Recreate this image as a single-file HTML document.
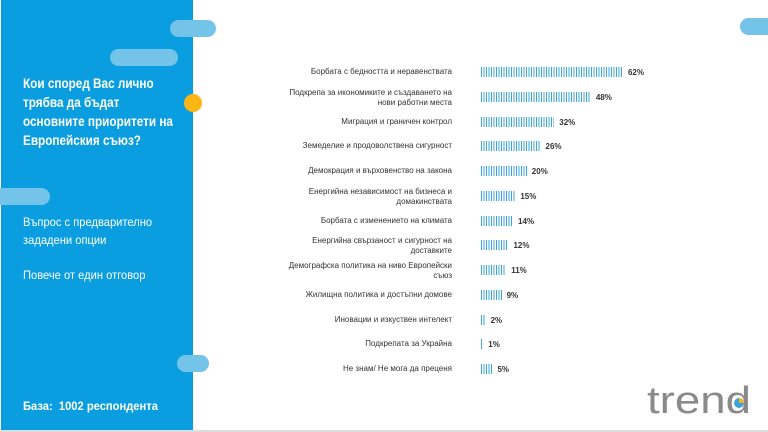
<!DOCTYPE html>
<html><head><meta charset="utf-8"><style>
body{margin:0;width:768px;height:432px;overflow:hidden;background:#fff;position:relative;font-family:"Liberation Sans",sans-serif}
.panel{position:absolute;left:1px;top:0;width:192px;height:430px;background:#0a9ee0}
.pill{position:absolute;background:#74c4ea;border-radius:9px;height:17px}
.dot{position:absolute;left:184px;top:94px;width:18px;height:18px;border-radius:50%;background:#fbb514}
.w{position:absolute;color:#fff;font-size:12px;line-height:18px;left:23px;transform-origin:0 0}
.t{font-weight:bold;font-size:13.5px;line-height:19px;top:74px;white-space:nowrap;transform:scaleX(0.87)}
.lab{position:absolute;right:316px;width:220px;text-align:right;font-size:8px;line-height:10px;color:#333}
.bar{position:absolute;left:481px;height:10px;background:repeating-linear-gradient(90deg,#3aa6dc 0 1px,#fff 1px 2.5px)}
.val{position:absolute;font-size:8px;color:#333;font-weight:bold}
.line{position:absolute;left:0;top:430px;width:768px;height:2px;background:#ddd}
</style></head><body>
<div class="panel"></div>
<div class="pill" style="left:170px;top:20px;width:46px"></div>
<div class="pill" style="left:110px;top:49px;width:68px"></div>
<div class="pill" style="left:740px;top:18px;width:40px"></div>
<div class="pill" style="left:-10px;top:188px;width:60px"></div>
<div class="pill" style="left:177px;top:355px;width:32px"></div>
<div class="dot"></div>
<div class="w t">Кои според Вас лично<br>трябва да бъдат<br>основните приоритети на<br>Европейския съюз?</div>
<div class="w" style="top:213px;transform:scaleX(0.93)">Въпрос с предварително<br>зададени опции</div>
<div class="w" style="top:266px;transform:scaleX(0.93)">Повече от един отговор</div>
<div class="w" style="top:397px;font-weight:bold;transform:scaleX(0.93)">База:&nbsp; 1002 респондента</div>
<div class="line"></div>
<div id="c"></div>
<svg style="position:absolute;left:645px;top:378px" width="115" height="42" viewBox="0 0 115 42">
<text x="2" y="35" font-family="Liberation Sans" font-size="38" fill="#8a8a8a" textLength="104" lengthAdjust="spacingAndGlyphs">trend</text>
<circle cx="94" cy="25" r="5" fill="#3aa6dc"/><path d="M94 20 A5 5 0 0 1 99 25 L94 25Z" fill="#fbb514"/>
</svg>
<script>
var d=[["Борбата с бедността и неравенствата",62],["Подкрепа за икономиките и създаването на<br>нови работни места",48],["Миграция и граничен контрол",32],["Земеделие и продоволствена сигурност",26],["Демокрация и върховенство на закона",20],["Енергийна независимост на бизнеса и<br>домакинствата",15],["Борбата с изменението на климата",14],["Енергийна свързаност и сигурност на<br>доставките",12],["Демографска политика на ниво Европейски<br>съюз",11],["Жилищна политика и достъпни домове",9],["Иновации и изкуствен интелект",2],["Подкрепата за Украйна",1],["Не знам/ Не мога да преценя",5]];
var h="";d.forEach(function(r,i){var y=72+i*24.75;var two=r[0].indexOf("<br>")>0;var w=r[1]*2.29;
h+='<div class="lab" style="top:'+(y-(two?9:5))+'px">'+r[0]+'</div><div class="bar" style="top:'+(y-5)+'px;width:'+w+'px"></div><div class="val" style="top:'+(y-4)+'px;left:'+(481+w+5)+'px">'+r[1]+'%</div>';});
document.getElementById("c").innerHTML=h;
</script>
</body></html>
